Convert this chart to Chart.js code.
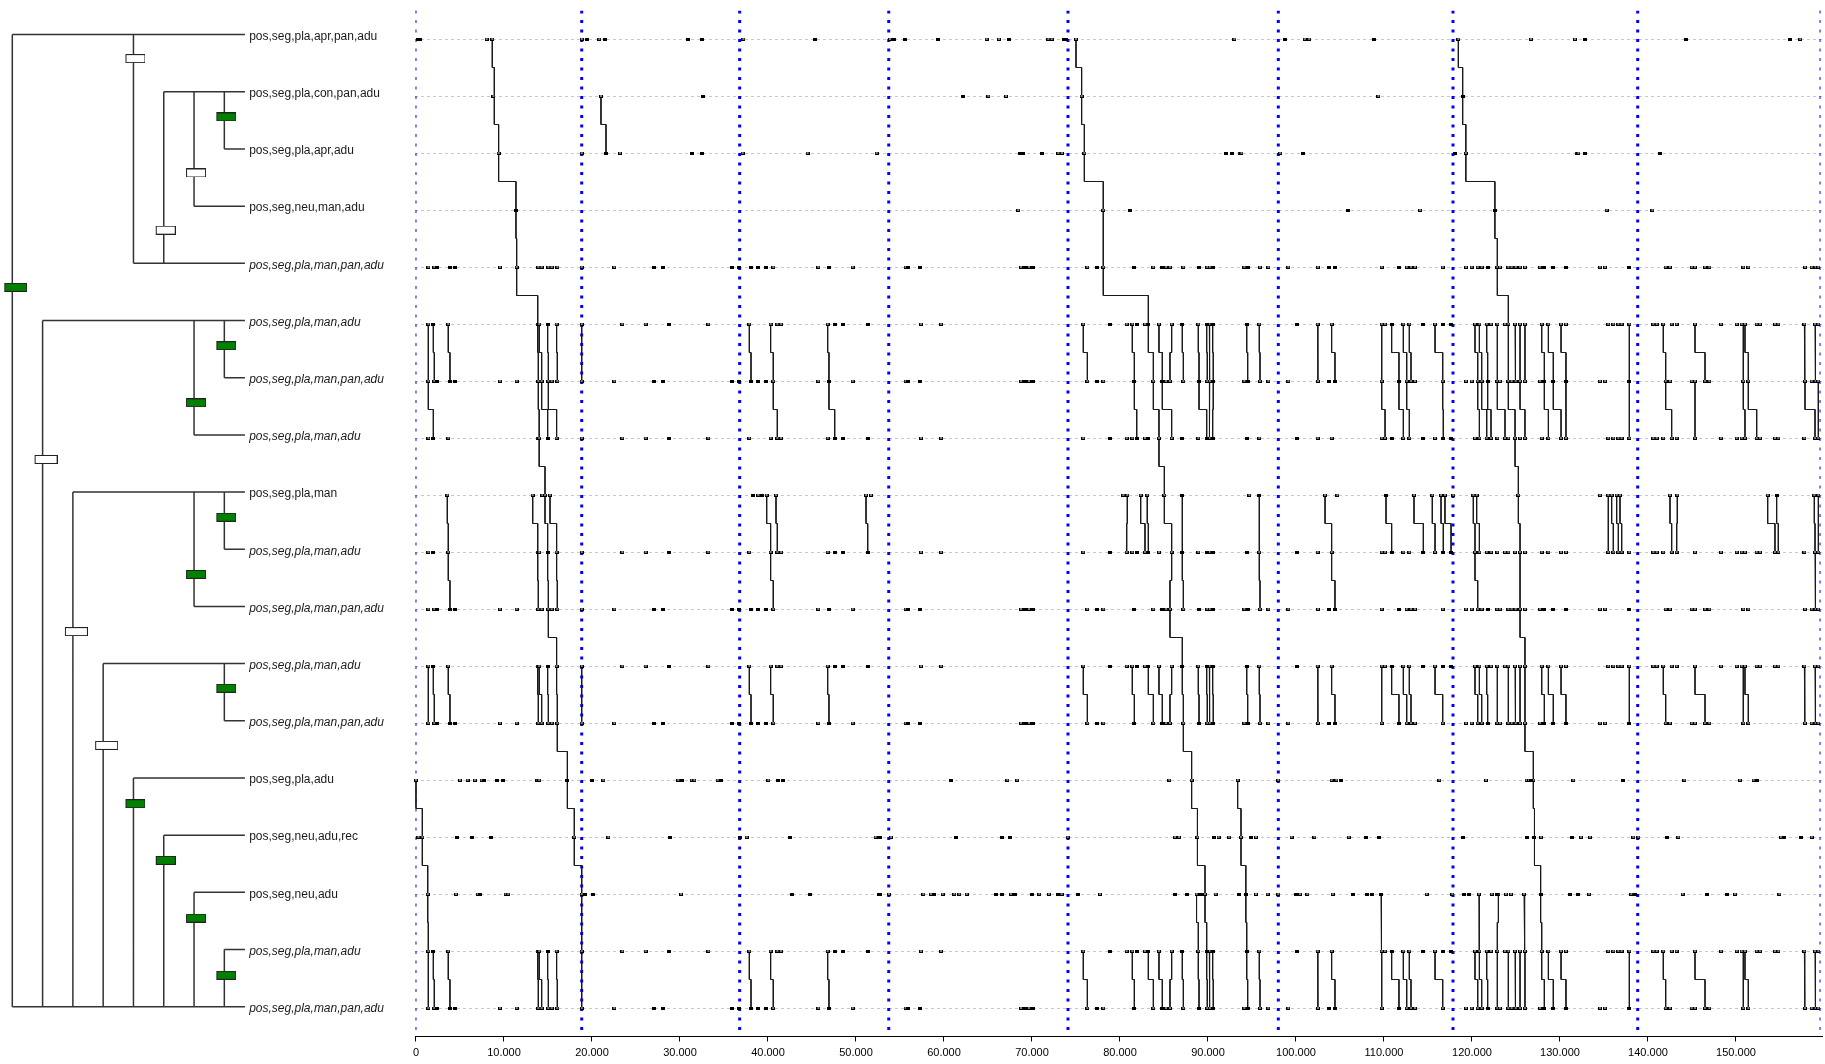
<!DOCTYPE html>
<html>
<head>
<meta charset="utf-8">
<title>Gene order tree</title>
<script src="https://cdn.jsdelivr.net/npm/chart.js@4.4.1/dist/chart.umd.min.js"></script>
<style>
  html, body { margin: 0; padding: 0; background: #fff; overflow: hidden; }
  #wrap { position: relative; width: 1825px; height: 1064px; }
  #plot, #tree { position: absolute; left: 0; top: 0; }
</style>
</head>
<body>
<div id="wrap">
  <canvas id="plot" width="1825" height="1064"></canvas>
  <canvas id="tree" width="405" height="1064"></canvas>
</div>
<script>
// ---- taxa (top to bottom) ----
const taxa = [
    "pos,seg,pla,apr,pan,adu", "pos,seg,pla,con,pan,adu", "pos,seg,pla,apr,adu",
    "pos,seg,neu,man,adu", "pos,seg,pla,man,pan,adu", "pos,seg,pla,man,adu",
    "pos,seg,pla,man,pan,adu", "pos,seg,pla,man,adu", "pos,seg,pla,man",
    "pos,seg,pla,man,adu", "pos,seg,pla,man,pan,adu", "pos,seg,pla,man,adu",
    "pos,seg,pla,man,pan,adu", "pos,seg,pla,adu", "pos,seg,neu,adu,rec",
    "pos,seg,neu,adu", "pos,seg,pla,man,adu", "pos,seg,pla,man,pan,adu",
];
const italicRows = [4, 5, 6, 7, 9, 10, 11, 12, 16, 17];

// ---- tree: [level, topRow, bottomRow] ----
const treeVerticals = [
    [0, 0, 17], [4, 0, 4], [5, 1, 4], [6, 1, 3], [7, 1, 2],
    [1, 5, 17], [6, 5, 7], [7, 5, 6], [2, 8, 17], [6, 8, 10], [7, 8, 9],
    [3, 11, 17], [7, 11, 12], [4, 13, 17], [5, 14, 17], [6, 15, 17], [7, 16, 17],
];
const branchStart = [0, 5, 7, 6, 4, 1, 7, 6, 2, 7, 6, 3, 7, 4, 5, 6, 7, 0];
const leafLevel = 7.68;
const labelLevel = 7.82;
const greenBoxes = [[0, 4.42], [7, 1.44], [7, 5.44], [6, 6.44], [7, 8.44], [6, 9.44],
    [7, 11.43], [4, 13.45], [5, 14.44], [6, 15.45], [7, 16.45]];
const whiteBoxes = [[4, 0.42], [6, 2.42], [5, 3.42], [1, 7.43], [2, 10.44], [3, 12.43]];

// ---- genome axis (kb) ----
const xTickValues = [0, 10000, 20000, 30000, 40000, 50000, 60000, 70000, 80000,
    90000, 100000, 110000, 120000, 130000, 140000, 150000];
const blueLines = [18.83, 36.78, 53.72, 74.09, 97.99, 117.84, 138.83];
const edgeLines = [0, 159.55];

// ---- markers per row (kb) ----
const row0Open = [8.03, 8.67, 18.83, 20.83, 37.2, 53.86, 64.85, 66.25, 71.86, 72.24, 75.0, 93.0, 101.0, 101.5, 118.45, 126.7, 131.7, 157.3];
const row0Solid = [0.2, 0.45, 19.39, 21.48, 30.87, 32.54, 45.3, 54.36, 55.57, 59.36, 67.42, 73.6, 73.9, 98.75, 108.9, 132.8, 144.3, 156.1];
const row1Open = [8.79, 21.02, 65.04, 67.05, 75.64, 109.36];
const row1Solid = [32.65, 62.2, 118.94];
const row2Open = [9.39, 18.83, 23.18, 37.12, 44.5, 52.35, 73.0, 73.4, 75.95, 93.6, 93.8, 98.2, 119.3, 131.9, 132.1];
const row2Solid = [21.59, 31.4, 32.5, 68.6, 68.95, 71.1, 92.1, 92.7, 100.8, 118.07, 132.8, 141.4];
const row3Open = [68.45, 78.1, 114.1, 135.3, 140.5];
const row3Solid = [11.36, 81.1, 105.9, 122.6];
const rowAOpen = [1.4, 3.67, 13.83, 14.0, 15.98, 18.83, 23.45, 26.1, 33.22, 37.88, 40.3, 41.06, 41.48, 46.78, 57.39, 59.66, 75.83, 80.76, 81.4, 82.84, 84.43, 85.87, 88.9, 90.15, 95.83, 102.46, 104.05, 109.74, 110.12, 112.2, 112.88, 115.8, 120.34, 120.84, 121.67, 122.16, 122.88, 123.75, 124.13, 124.89, 125.46, 126.02, 127.92, 128.68, 130.12, 130.68, 135.49, 136.06, 136.63, 137.01, 137.88, 140.61, 140.99, 141.74, 142.69, 143.26, 145.34, 148.3, 150.08, 150.64, 151.02, 152.35, 152.73, 154.43, 154.81, 157.77, 158.98, 159.36];
const rowASolid = [1.97, 14.96, 28.79, 47.58, 48.52, 51.33, 78.86, 81.9, 83.22, 87.08, 89.85, 90.53, 94.4, 100.08, 110.87, 114.47, 116.74, 117.62];
const rowBOpen = [1.4, 2.08, 9.55, 11.44, 13.9, 14.28, 15.04, 15.42, 16.06, 18.83, 22.54, 40.6, 45.72, 49.62, 55.64, 68.75, 69.66, 76.29, 78.1, 83.79, 85.23, 85.68, 87.2, 89.92, 90.2, 94.13, 95.91, 96.86, 99.13, 102.5, 109.74, 112.58, 113.07, 113.52, 116.67, 119.32, 119.96, 120.65, 121.1, 122.88, 123.18, 124.13, 124.51, 124.96, 125.46, 126.02, 127.73, 134.55, 135.12, 142.01, 142.5, 144.96, 145.34, 146.48, 146.97, 150.83, 151.4, 157.84, 158.6, 159.05, 159.35];
const rowBSolid = [2.35, 3.86, 4.43, 27.08, 28.03, 35.87, 36.74, 38.07, 38.9, 39.77, 46.93, 55.95, 57.27, 69.2, 70.15, 77.35, 81.63, 84.81, 88.98, 90.6, 94.51, 103.75, 104.43, 111.7, 121.78, 128.22, 129.24, 130.68, 137.88];
const row8Open = [3.56, 13.26, 14.36, 14.66, 15.23, 38.9, 39.85, 40.91, 51.14, 51.7, 80.38, 80.83, 82.35, 83.1, 85.04, 94.7, 103.3, 104.7, 113.41, 115.49, 116.48, 116.93, 117.88, 120.15, 120.53, 125.27, 134.55, 135.49, 135.87, 136.44, 136.82, 142.5, 143.33, 153.6, 158.9, 159.36];
const row8Solid = [38.33, 39.28, 87.08, 95.83, 110.23, 154.62];
const row13Open = [0.0, 5.0, 5.87, 6.7, 7.46, 13.8, 14.0, 21.29, 29.8, 31.33, 31.63, 34.28, 40.04, 67.2, 68.33, 85.6, 88.14, 93.37, 97.99, 104.05, 104.6, 116.29, 121.59, 126.2, 126.48, 126.97, 131.52, 144.13, 150.46, 152.0];
const row13Solid = [7.77, 9.17, 9.85, 17.2, 19.96, 30.19, 34.66, 41.1, 41.67, 60.8, 105.1, 126.71, 137.2, 152.35];
const row14Open = [0.27, 0.72, 17.99, 21.86, 37.58, 52.23, 53.98, 74.05, 86.25, 86.7, 88.8, 91.2, 92.4, 93.75, 95.45, 99.5, 102.1, 106.0, 127.84, 132.39, 133.41, 138.33, 138.9, 143.45, 155.1, 158.6];
const row14Solid = [4.62, 6.33, 8.52, 28.86, 36.82, 42.5, 52.7, 61.36, 66.55, 67.5, 90.7, 94.9, 108.0, 109.47, 119.0, 126.2, 127.1, 131.33, 142.12, 155.4, 157.4];
const row15Open = [1.33, 4.55, 7.01, 10.19, 10.49, 18.83, 30.11, 52.6, 53.75, 57.65, 58.52, 59.85, 61.17, 61.74, 62.58, 67.6, 70.83, 71.93, 73.37, 77.73, 88.7, 89.66, 90.87, 95.45, 96.78, 97.99, 100.45, 101.29, 104.17, 114.85, 117.77, 120.8, 122.24, 123.0, 123.87, 124.43, 125.91, 133.3, 138.1, 143.94, 149.9, 154.93];
const row15Solid = [7.27, 19.2, 20.15, 42.69, 44.77, 52.73, 58.9, 65.87, 66.55, 68.07, 69.96, 72.99, 75.27, 86.25, 87.58, 89.2, 93.5, 94.3, 99.96, 106.52, 108.03, 108.6, 109.66, 119.13, 119.66, 122.8, 127.8, 131.14, 132.09, 138.5, 146.74, 148.94];

const rowMarksOpen = [row0Open, row1Open, row2Open, row3Open, rowBOpen, rowAOpen, rowBOpen, rowAOpen, row8Open,
    rowAOpen, rowBOpen, rowAOpen, rowBOpen, row13Open, row14Open, row15Open, rowAOpen, rowBOpen];
const rowMarksSolid = [row0Solid, row1Solid, row2Solid, row3Solid, rowBSolid, rowASolid, rowBSolid, rowASolid, row8Solid,
    rowASolid, rowBSolid, rowASolid, rowBSolid, row13Solid, row14Solid, row15Solid, rowASolid, rowBSolid];

// ---- links between consecutive rows: [x in row r, x in row r+1] (kb) ----
const L01 = [[8.67, 8.9], [75.0, 75.64], [118.45, 118.94]];
const L12 = [[8.9, 9.39], [21.02, 21.59], [75.64, 75.95], [118.94, 119.3]];
const L23 = [[9.39, 11.36], [75.95, 78.1], [119.3, 122.6]];
const L34 = [[11.36, 11.44], [78.1, 78.1], [122.6, 122.88]];
const L45 = [[11.44, 13.83], [78.1, 83.22], [122.88, 124.13]];
const LAB = [[1.4, 1.4], [1.97, 2.08], [3.67, 3.86], [13.83, 13.9], [14.0, 14.28], [14.96, 15.04], [15.98, 16.06],
    [18.83, 18.83], [37.88, 38.07], [40.3, 40.6], [46.78, 46.93], [75.83, 76.29], [81.4, 81.63], [83.22, 83.79],
    [84.43, 84.81], [85.87, 85.68], [87.08, 87.2], [88.9, 88.98], [89.85, 89.92], [90.15, 90.2], [90.53, 90.6],
    [94.4, 94.51], [95.83, 95.91], [102.46, 102.5], [104.05, 104.43], [109.74, 109.74], [110.87, 111.7],
    [112.2, 112.58], [112.88, 113.07], [115.8, 116.67], [120.34, 120.65], [120.84, 121.1], [121.67, 121.78],
    [122.88, 122.88], [124.13, 124.13], [124.89, 124.96], [125.46, 125.46], [126.02, 126.02], [127.92, 128.22],
    [128.68, 129.24], [130.12, 130.68], [137.88, 137.88], [141.74, 142.01], [145.34, 146.48], [150.83, 150.83],
    [151.02, 151.4], [157.77, 157.84], [158.98, 159.05]];
const L67 = [[1.4, 1.97], [13.9, 14.0], [14.28, 15.98], [15.04, 14.96], [40.6, 41.06], [46.93, 47.58],
    [81.63, 81.9], [83.79, 84.43], [84.81, 85.87], [88.98, 89.85], [90.2, 90.15], [90.6, 90.53],
    [109.74, 110.12], [111.7, 112.2], [112.58, 112.88], [116.67, 116.74], [120.65, 120.84], [121.1, 122.16],
    [121.78, 121.67], [122.88, 123.75], [124.13, 124.89], [125.46, 126.02], [128.22, 128.68], [129.24, 130.12],
    [130.68, 130.68], [137.88, 137.88], [142.01, 142.69], [145.34, 145.34], [150.83, 151.02], [151.4, 152.35],
    [157.84, 158.98], [159.35, 159.36]];
const L78 = [[14.0, 14.66], [84.43, 85.04], [124.89, 125.27]];
const L89 = [[3.56, 3.67], [13.26, 13.83], [14.66, 14.96], [15.23, 15.98], [39.85, 40.3], [40.91, 41.06],
    [51.14, 51.33], [80.83, 80.76], [82.35, 82.84], [83.1, 83.22], [85.04, 85.87], [87.08, 87.08], [95.83, 95.83],
    [103.3, 104.05], [110.23, 110.87], [113.41, 114.47], [115.49, 115.8], [116.48, 116.74], [116.93, 117.62],
    [120.15, 120.34], [120.53, 120.84], [125.27, 125.46], [135.49, 135.49], [135.87, 136.06], [136.44, 136.63],
    [136.82, 137.01], [142.5, 142.69], [143.33, 143.26], [153.6, 154.43], [154.62, 154.81], [158.9, 158.98],
    [159.36, 159.36]];
const L910 = [[3.67, 3.86], [13.83, 13.9], [14.96, 15.04], [15.98, 16.06], [40.3, 40.6], [85.87, 85.68],
    [87.08, 87.2], [95.83, 95.91], [104.05, 104.43], [120.34, 120.65], [125.46, 125.46], [158.98, 159.05]];
const L1011 = [[15.04, 15.98], [85.68, 87.08], [125.46, 126.02]];
const L1213 = [[16.06, 17.2], [87.2, 88.14], [126.02, 126.97]];
const L1314 = [[0.0, 0.72], [17.2, 17.99], [88.14, 88.8], [93.37, 93.75], [126.97, 127.1]];
const L1415 = [[0.72, 1.33], [17.99, 18.83], [88.8, 89.66], [93.75, 94.3], [127.1, 127.8]];
const L1516 = [[1.33, 1.4], [18.83, 18.83], [88.7, 88.9], [89.66, 89.85], [94.3, 94.4], [109.66, 109.74],
    [120.8, 120.84], [123.0, 122.88], [125.91, 126.02], [127.8, 127.92]];
const rowLinks = [L01, L12, L23, L34, L45, LAB, L67, L78, L89, L910, L1011, LAB, L1213, L1314, L1415, L1516, LAB];

// ---- helpers ----
const KB = 1000;
const X_MIN = -113.6;
const X_MAX = 159773;
const TREE_MIN = -12.3 / 30.29;
const TREE_MAX = (405 - 12.3) / 30.29;

function fmt(v) {
    return String(v).replace(/\B(?=(\d{3})+(?!\d))/g, ".");
}

function markerImage(solid) {
    const c = document.createElement("canvas");
    c.width = 4;
    c.height = 3;
    const g = c.getContext("2d");
    g.fillStyle = "#000";
    g.fillRect(0, 0, 4, 3);
    if (!solid) {
        g.fillStyle = "#fff";
        g.fillRect(1, 1, 2, 1);
    }
    return c;
}

function boxImage(w, offset, fill) {
    const c = document.createElement("canvas");
    c.width = Math.round(2 * (offset + w / 2));
    c.height = 9;
    const g = c.getContext("2d");
    const left = c.width - w;
    g.fillStyle = "#222";
    g.fillRect(left, 0, w, 9);
    g.fillStyle = fill;
    g.fillRect(left + 1, 1, w - 2, 7);
    return c;
}

const openMark = markerImage(false);
const solidMark = markerImage(true);
const greenWide = boxImage(23, 3.6, "#008000");
const greenNarrow = boxImage(20, 1.8, "#008000");
const whiteWide = boxImage(23, 3.6, "#ffffff");
const whiteNarrow = boxImage(20, 1.8, "#ffffff");

// ---- plot datasets ----
const openPts = [];
const solidPts = [];
rowMarksOpen.forEach((vals, r) => vals.forEach((v) => openPts.push({ x: v * KB, y: r })));
rowMarksSolid.forEach((vals, r) => vals.forEach((v) => solidPts.push({ x: v * KB, y: r })));

const linkPts = [];
rowLinks.forEach((pairs, r) => {
    pairs.forEach(([a, b]) => {
        linkPts.push(
            { x: a * KB, y: r }, { x: a * KB, y: r + 0.5 },
            { x: b * KB, y: r + 0.5 }, { x: b * KB, y: r + 1 },
            { x: null, y: null }
        );
    });
});

function vlinePts(list) {
    const pts = [];
    list.forEach((v) => pts.push({ x: v * KB, y: -0.5 }, { x: v * KB, y: 17.5 }, { x: null, y: null }));
    return pts;
}

new Chart(document.getElementById("plot"), {
    type: "line",
    data: {
        datasets: [
            {
                label: "solid",
                data: solidPts,
                showLine: false,
                pointStyle: solidMark,
                pointRadius: 3,
                order: 0,
                clip: false,
            },
            {
                label: "open",
                data: openPts,
                showLine: false,
                pointStyle: openMark,
                pointRadius: 3,
                order: 1,
                clip: false,
            },
            {
                label: "links",
                data: linkPts,
                borderColor: "#1a1a1a",
                borderWidth: 1,
                pointRadius: 0,
                tension: 0,
                order: 2,
            },
            {
                label: "breaks",
                data: vlinePts(blueLines),
                borderColor: "#0000ff",
                borderWidth: 3,
                borderDash: [3, 6.5],
                pointRadius: 0,
                order: 3,
            },
            {
                label: "edges",
                data: vlinePts(edgeLines),
                borderColor: "#0000ff",
                borderWidth: 1,
                borderDash: [3, 6.5],
                pointRadius: 0,
                order: 4,
                clip: false,
            },
        ],
    },
    options: {
        responsive: false,
        animation: false,
        events: [],
        layout: { autoPadding: false, padding: { left: 415, right: 3, top: 10.5, bottom: 0 } },
        scales: {
            x: {
                type: "linear",
                min: X_MIN,
                max: X_MAX,
                afterBuildTicks: (s) => { s.ticks = xTickValues.map((v) => ({ value: v })); },
                afterFit: (s) => { s.height = 27.5; },
                ticks: {
                    callback: (v) => fmt(v),
                    color: "#000",
                    font: { family: "Liberation Sans", size: 11 },
                    padding: 5,
                    maxRotation: 0,
                    autoSkip: false,
                },
                grid: { drawOnChartArea: false, drawTicks: true, tickLength: 5, color: "#000" },
                border: { display: true, color: "#000", width: 1 },
            },
            y: {
                type: "linear",
                min: -0.5,
                max: 17.5,
                reverse: true,
                afterBuildTicks: (s) => { s.ticks = taxa.map((_, i) => ({ value: i })); },
                afterFit: (s) => { s.width = 0; },
                ticks: { display: false },
                grid: { color: "#c8c8c8", drawTicks: false, lineWidth: 1 },
                border: { display: false, dash: [3, 3] },
            },
        },
        plugins: { legend: { display: false }, tooltip: { enabled: false } },
    },
});

// ---- tree ----
const treePts = [];
treeVerticals.forEach(([lv, a, b]) => treePts.push({ x: lv, y: a }, { x: lv, y: b }, { x: null, y: null }));
branchStart.forEach((lv, r) => treePts.push({ x: lv, y: r }, { x: leafLevel, y: r }, { x: null, y: null }));

const taxonLabels = {
    id: "taxonLabels",
    afterDatasetsDraw(chart) {
        const { ctx, scales: { x, y } } = chart;
        ctx.save();
        ctx.fillStyle = "#1a1a1a";
        ctx.textBaseline = "middle";
        ctx.textAlign = "left";
        taxa.forEach((name, i) => {
            ctx.font = (italicRows.includes(i) ? "italic " : "") + "12px 'Liberation Sans'";
            ctx.fillText(name, x.getPixelForValue(labelLevel), y.getPixelForValue(i) + 2);
        });
        ctx.restore();
    },
};

new Chart(document.getElementById("tree"), {
    type: "line",
    data: {
        datasets: [
            {
                label: "green",
                data: greenBoxes.map(([lv, r]) => ({ x: lv, y: r })),
                showLine: false,
                pointStyle: (c) => (c.raw && c.raw.x <= 3 ? greenWide : greenNarrow),
                pointRadius: 10,
                order: 0,
                clip: false,
            },
            {
                label: "white",
                data: whiteBoxes.map(([lv, r]) => ({ x: lv, y: r })),
                showLine: false,
                pointStyle: (c) => (c.raw && c.raw.x <= 3 ? whiteWide : whiteNarrow),
                pointRadius: 10,
                order: 1,
                clip: false,
            },
            {
                label: "branches",
                data: treePts,
                borderColor: "#333",
                borderWidth: 1.5,
                pointRadius: 0,
                tension: 0,
                order: 2,
                clip: false,
            },
        ],
    },
    options: {
        responsive: false,
        animation: false,
        events: [],
        layout: { autoPadding: false, padding: { left: 0, right: 0, top: 6, bottom: 28.7 } },
        scales: {
            x: { type: "linear", display: false, min: TREE_MIN, max: TREE_MAX },
            y: { type: "linear", display: false, min: -0.5, max: 17.5, reverse: true },
        },
        plugins: { legend: { display: false }, tooltip: { enabled: false } },
    },
    plugins: [taxonLabels],
});
</script>
</body>
</html>
